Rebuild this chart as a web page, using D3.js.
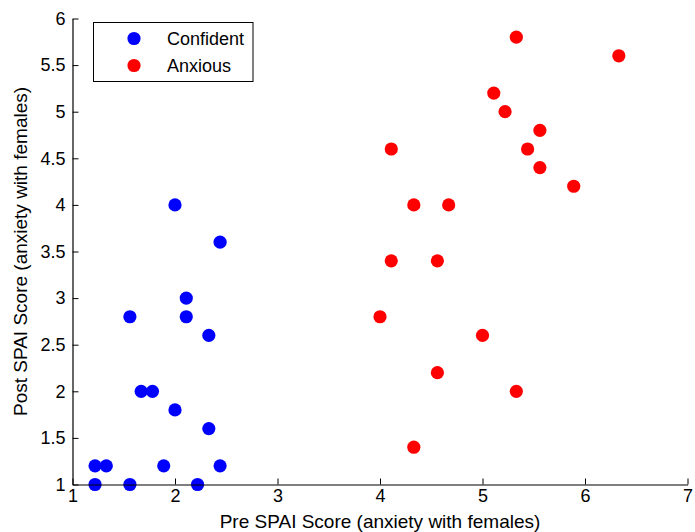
<!DOCTYPE html>
<html>
<head>
<meta charset="utf-8">
<script src="https://cdn.jsdelivr.net/npm/d3@7"></script>
<style>
  html, body { margin: 0; padding: 0; background: #fff; }
  svg { display: block; font-family: "Liberation Sans", Arial, sans-serif; }
</style>
</head>
<body>
<svg id="chart" width="695" height="532"></svg>
<script>
// Pre / post SPAI scores for the two groups
const confidentPre  = [1.22, 1.22, 1.33, 1.56, 1.56, 1.67, 1.78, 1.89, 2.00, 2.00, 2.11, 2.11, 2.22, 2.33, 2.33, 2.44, 2.44];
const confidentPost = [1.0,  1.2,  1.2,  1.0,  2.8,  2.0,  2.0,  1.2,  1.8,  4.0,  3.0,  2.8,  1.0,  2.6,  1.6,  1.2,  3.6];
const anxiousPre  = [4.00, 4.11, 4.11, 4.33, 4.33, 4.56, 4.56, 4.67, 5.00, 5.11, 5.22, 5.33, 5.33, 5.44, 5.56, 5.56, 5.89, 6.33];
const anxiousPost = [2.8,  3.4,  4.6,  1.4,  4.0,  3.4,  2.2,  4.0,  2.6,  5.2,  5.0,  5.8,  2.0,  4.6,  4.8,  4.4,  4.2,  5.6];

const xTicks = [1, 2, 3, 4, 5, 6, 7];
const yTicks = [1, 1.5, 2, 2.5, 3, 3.5, 4, 4.5, 5, 5.5, 6];
const seriesNames = ["Confident", "Anxious"];
const seriesColors = ["#0000ff", "#ff0000"];

const svg = d3.select("#chart");
const x = d3.scaleLinear().domain([1, 7]).range([72.5, 687.5]);
const y = d3.scaleLinear().domain([1, 6]).range([484.5, 18.5]);

const tickFont = 18;
const titleFont = 19;

// Points
const groups = [
  confidentPre.map((v, i) => ({ x: v, y: confidentPost[i] })),
  anxiousPre.map((v, i) => ({ x: v, y: anxiousPost[i] }))
];
groups.forEach((pts, gi) => {
  svg.append("g").selectAll("circle").data(pts).join("circle")
    .attr("cx", d => x(d.x))
    .attr("cy", d => y(d.y))
    .attr("r", 6.6)
    .attr("fill", seriesColors[gi]);
});

// Axes with inward ticks
const xAxis = svg.append("g")
  .attr("transform", `translate(0,${y(1)})`)
  .call(d3.axisBottom(x).tickValues(xTicks).tickFormat(d3.format("d"))
    .tickSizeInner(-6).tickSizeOuter(0).tickPadding(5));
const yAxis = svg.append("g")
  .attr("transform", `translate(${x(1)},0)`)
  .call(d3.axisLeft(y).tickValues(yTicks).tickFormat(d => String(d))
    .tickSizeInner(-6).tickSizeOuter(0).tickPadding(7));

[xAxis, yAxis].forEach(a => {
  a.select(".domain").attr("stroke", "#000").attr("stroke-width", 1.2);
  a.selectAll(".tick line").attr("stroke", "#000").attr("stroke-width", 1);
  a.selectAll(".tick text")
    .attr("fill", "#000")
    .style("font-size", tickFont + "px")
    .style("font-family", "'Liberation Sans', Arial, sans-serif");
});
xAxis.selectAll(".tick text").attr("dy", "0.71em");

// Axis titles
svg.append("text")
  .attr("x", (x(1) + x(7)) / 2)
  .attr("y", 527.5)
  .attr("text-anchor", "middle")
  .style("font-size", titleFont + "px")
  .text("Pre SPAI Score (anxiety with females)");

svg.append("text")
  .attr("transform", `translate(27,${(y(1) + y(6)) / 2}) rotate(-90)`)
  .attr("text-anchor", "middle")
  .style("font-size", titleFont + "px")
  .text("Post SPAI Score (anxiety with females)");

// Legend
const legend = svg.append("g");
legend.append("rect")
  .attr("x", 93.5).attr("y", 22.5)
  .attr("width", 159.5).attr("height", 59)
  .attr("fill", "#fff").attr("stroke", "#000").attr("stroke-width", 1);
seriesNames.forEach((name, i) => {
  const cy = 38.5 + i * 27;
  legend.append("circle")
    .attr("cx", 134).attr("cy", cy).attr("r", 6.6)
    .attr("fill", seriesColors[i]);
  legend.append("text")
    .attr("x", 167).attr("y", cy)
    .attr("dy", "0.35em")
    .style("font-size", tickFont + "px")
    .text(name);
});
</script>
</body>
</html>
